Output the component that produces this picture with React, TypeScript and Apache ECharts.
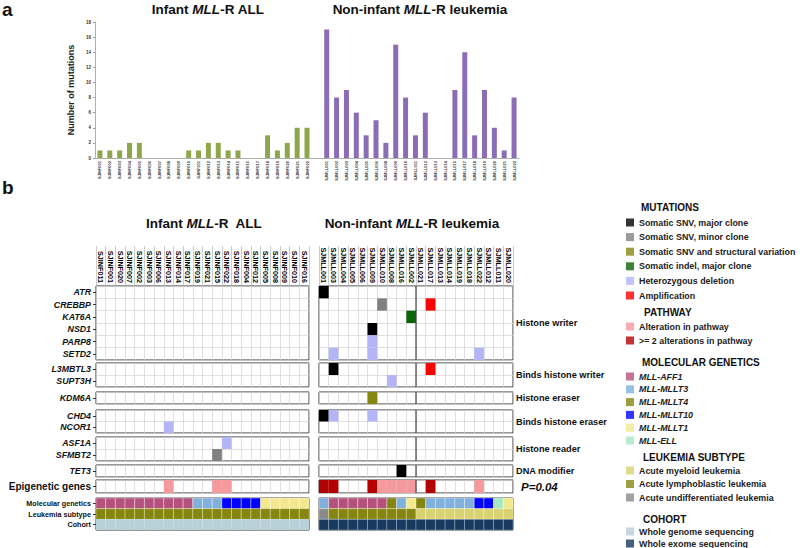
import React, { useEffect, useRef } from 'react';
import * as echarts from 'echarts';

const FONT = "'Liberation Sans', Arial, Helvetica, sans-serif";

// ---------- Panel a data ----------
const barInfantIds = ['SJINF001','SJINF002','SJINF003','SJINF004','SJINF005','SJINF006','SJINF007','SJINF008','SJINF009','SJINF010','SJINF011','SJINF012','SJINF013','SJINF014','SJINF015','SJINF016','SJINF017','SJINF018','SJINF019','SJINF020','SJINF021','SJINF022'];
const barInfantValues = [1,1,1,2,2,0,0,0,0,1,1,2,2,1,1,0,0,3,1,2,4,4];
const barNonInfantIds = ['SJMLL001','SJMLL002','SJMLL003','SJMLL004','SJMLL005','SJMLL006','SJMLL008','SJMLL009','SJMLL010','SJMLL011','SJMLL012','SJMLL013','SJMLL014','SJMLL016','SJMLL017','SJMLL018','SJMLL019','SJMLL020','SJMLL021','SJMLL022'];
const barNonInfantValues = [17,8,9,6,3,5,2,15,8,3,6,0,0,9,14,3,9,4,1,8];
const barYMax = 18;
const barYStep = 2;

// ---------- Panel b data ----------
const hmInfantIds = ['SJINF011','SJINF001','SJINF020','SJINF007','SJINF002','SJINF003','SJINF006','SJINF013','SJINF014','SJINF017','SJINF019','SJINF021','SJINF015','SJINF022','SJINF018','SJINF004','SJINF012','SJINF005','SJINF008','SJINF009','SJINF010','SJINF016'];
const hmNonInfantIds = ['SJMLL001','SJMLL003','SJMLL004','SJMLL005','SJMLL006','SJMLL009','SJMLL010','SJMLL008','SJMLL016','SJMLL002','SJMLL021','SJMLL017','SJMLL013','SJMLL014','SJMLL019','SJMLL018','SJMLL022','SJMLL012','SJMLL011','SJMLL020'];
const dividerAfter = 'SJMLL002';

const geneBlocks = [
  { genes: ['ATR','CREBBP','KAT6A','NSD1','PARP8','SETD2'], label: 'Histone writer' },
  { genes: ['L3MBTL3','SUPT3H'], label: 'Binds histone writer' },
  { genes: ['KDM6A'], label: 'Histone eraser' },
  { genes: ['CHD4','NCOR1'], label: 'Binds histone eraser' },
  { genes: ['ASF1A','SFMBT2'], label: 'Histone reader' },
  { genes: ['TET3'], label: 'DNA modifier' },
];

// [sample, gene, mutation type]
const infantMutations = [
  ['SJINF013','NCOR1','del'],
  ['SJINF015','SFMBT2','snvMinor'],
  ['SJINF022','ASF1A','del'],
];
const nonInfantMutations = [
  ['SJMLL001','ATR','snvMajor'],
  ['SJMLL001','CHD4','snvMajor'],
  ['SJMLL003','SETD2','del'],
  ['SJMLL003','L3MBTL3','snvMajor'],
  ['SJMLL003','CHD4','del'],
  ['SJMLL009','NSD1','snvMajor'],
  ['SJMLL009','PARP8','del'],
  ['SJMLL009','SETD2','del'],
  ['SJMLL009','KDM6A','snvSV'],
  ['SJMLL009','CHD4','del'],
  ['SJMLL010','CREBBP','snvMinor'],
  ['SJMLL008','SUPT3H','del'],
  ['SJMLL016','TET3','snvMajor'],
  ['SJMLL002','KAT6A','indel'],
  ['SJMLL017','CREBBP','amp'],
  ['SJMLL017','L3MBTL3','amp'],
  ['SJMLL022','SETD2','del'],
];

const pathwayLabel = 'Epigenetic genes';
const pathwayP = 'P=0.04';
const infantPathway = [0,0,0,0,0,0,0,1,0,0,0,0,1,1,0,0,0,0,0,0,0,0];
const nonInfantPathway = [2,2,0,0,0,2,1,1,1,1,0,2,0,0,0,0,1,0,0,0];

const annotationRows = ['Molecular genetics','Leukemia subtype','Cohort'];
const infantGenetics = ['AFF1','AFF1','AFF1','AFF1','AFF1','AFF1','AFF1','AFF1','AFF1','AFF1','MLLT3','MLLT3','MLLT3','MLLT10','MLLT10','MLLT10','MLLT10','MLLT1','MLLT1','MLLT1','MLLT1','MLLT1'];
const nonInfantGenetics = ['MLLT3','AFF1','AFF1','AFF1','AFF1','AFF1','AFF1','MLLT4','MLLT3','MLLT1','MLLT4','MLLT3','MLLT3','MLLT3','MLLT3','MLLT3','MLLT10','MLLT10','ELL','MLLT1'];
const infantSubtype = ['ALL','ALL','ALL','ALL','ALL','ALL','ALL','ALL','ALL','ALL','ALL','ALL','ALL','ALL','ALL','ALL','ALL','ALL','ALL','ALL','ALL','ALL'];
const nonInfantSubtype = ['AUL','ALL','ALL','ALL','ALL','ALL','ALL','ALL','ALL','ALL','AML','AML','AML','AML','AML','AML','AML','AML','AML','AML'];
const infantCohort = ['WGS','WGS','WGS','WGS','WGS','WGS','WGS','WGS','WGS','WGS','WGS','WGS','WGS','WGS','WGS','WGS','WGS','WGS','WGS','WGS','WGS','WGS'];
const nonInfantCohort = ['WES','WES','WES','WES','WES','WES','WES','WES','WES','WES','WES','WES','WES','WES','WES','WES','WES','WES','WES','WES'];

// ---------- Legends ----------
const mutationLegend = [
  { key: 'snvMajor', name: 'Somatic SNV, major clone', color: '#000000' },
  { key: 'snvMinor', name: 'Somatic SNV, minor clone', color: '#808080' },
  { key: 'snvSV', name: 'Somatic SNV and structural variation', color: '#858511' },
  { key: 'indel', name: 'Somatic indel, major clone', color: '#0a640a' },
  { key: 'del', name: 'Heterozygous deletion', color: '#b3b5f7' },
  { key: 'amp', name: 'Amplification', color: '#ff0000' },
];
const pathwayLegend = [
  { key: 1, name: 'Alteration in pathway', color: '#f59a9c' },
  { key: 2, name: '>= 2 alterations in pathway', color: '#b30000' },
];
const geneticsLegend = [
  { key: 'AFF1', name: 'MLL-AFF1', color: '#b4517d' },
  { key: 'MLLT3', name: 'MLL-MLLT3', color: '#80b1dd' },
  { key: 'MLLT4', name: 'MLL-MLLT4', color: '#858511' },
  { key: 'MLLT10', name: 'MLL-MLLT10', color: '#0000ff' },
  { key: 'MLLT1', name: 'MLL-MLLT1', color: '#f3e890' },
  { key: 'ELL', name: 'MLL-ELL', color: '#a6e8c6' },
];
const subtypeLegend = [
  { key: 'AML', name: 'Acute myeloid leukemia', color: '#d8d274' },
  { key: 'ALL', name: 'Acute lymphoblastic leukemia', color: '#858511' },
  { key: 'AUL', name: 'Acute undifferentiated leukemia', color: '#8a8a8a' },
];
const cohortLegend = [
  { key: 'WGS', name: 'Whole genome sequencing', color: '#b8d0d8' },
  { key: 'WES', name: 'Whole exome sequencing', color: '#173a5e' },
];

const colorOf = (list: any[], key: any) => (list.find((d) => d.key === key) || { color: '#fff' }).color;

// ---------- Layout ----------
const blockBoxes = [[286, 74], [363, 24], [392, 12], [410, 23], [437, 24], [465, 12], [480, 13], [498, 32]];
const groupBoxes = { inf: [96, 213], non: [319, 194] };

function buildOption() {
  const grids: any[] = [];
  const xAxes: any[] = [];
  const yAxes: any[] = [];
  const series: any[] = [];
  const graphic: any[] = [];

  // Panel a
  const barCats = [...barInfantIds, '', ...barNonInfantIds];
  grids.push({ left: 95, top: 22, width: 424, height: 136 });
  xAxes.push({
    type: 'category', gridIndex: 0, data: barCats,
    axisLine: { lineStyle: { color: '#9a9a9a', width: 0.8 } },
    axisTick: { show: false },
    axisLabel: { interval: 0, rotate: 90, fontSize: 4, color: '#333', margin: 3, fontWeight: 'bold' },
  });
  yAxes.push({
    type: 'value', gridIndex: 0, min: 0, max: barYMax, interval: barYStep,
    name: 'Number of mutations', nameLocation: 'middle', nameGap: 17,
    nameTextStyle: { fontSize: 9, fontWeight: 'bold', color: '#222' },
    axisLine: { show: true, lineStyle: { color: '#9a9a9a', width: 0.8 } },
    axisTick: { show: true, length: 2, lineStyle: { color: '#9a9a9a' } },
    axisLabel: { fontSize: 4.5, color: '#333', margin: 4, fontWeight: 'bold' },
    splitLine: { show: false },
  });
  series.push({
    type: 'bar', xAxisIndex: 0, yAxisIndex: 0, barWidth: 5, barGap: '-100%',
    data: [...barInfantValues, '-', ...barNonInfantIds.map(() => '-')],
    itemStyle: { color: '#8fa74c' },
  });
  series.push({
    type: 'bar', xAxisIndex: 0, yAxisIndex: 0, barWidth: 5, barGap: '-100%',
    data: [...barInfantIds.map(() => '-'), '-', ...barNonInfantValues],
    itemStyle: { color: '#8b6db5' },
  });

  // Panel b
  const allBlocks: any[] = [
    ...geneBlocks.map((b) => ({ rows: b.genes, label: b.label, kind: 'mut' })),
    { rows: [pathwayLabel], label: pathwayP, kind: 'path' },
    { rows: annotationRows, label: '', kind: 'ann' },
  ];

  allBlocks.forEach((blk, bi) => {
    const [top, height] = blockBoxes[bi];
    (['inf', 'non'] as const).forEach((g) => {
      const idx = grids.length;
      const ids = g === 'inf' ? hmInfantIds : hmNonInfantIds;
      const [left, width] = groupBoxes[g];
      grids.push({ left, top, width, height, show: true, borderColor: '#333', borderWidth: 1, backgroundColor: '#fff' });
      const isHeader = bi === 0;
      xAxes.push({
        type: 'category', gridIndex: idx, data: ids, position: 'top',
        axisLine: { show: false },
        axisTick: isHeader ? { show: true, interval: 0, length: 40, lineStyle: { color: '#aaaaaa', width: 0.6 } } : { show: false },
        axisLabel: isHeader ? { show: true, interval: 0, rotate: 90, fontSize: 7.2, fontWeight: 'bold', color: '#000', margin: 3 } : { show: false },
        splitLine: { show: blk.kind !== 'ann', interval: 0, lineStyle: { color: '#d2d2d2', width: 0.7 } },
      });
      const yLabelStyle =
        blk.kind === 'mut' ? { fontSize: 8.8, fontWeight: 'bold', fontStyle: 'italic', color: '#111' } :
        blk.kind === 'path' ? { fontSize: 10, fontWeight: 'bold', color: '#111' } :
        { fontSize: 7.2, fontWeight: 'bold', color: '#111' };
      yAxes.push({
        type: 'category', gridIndex: idx, data: blk.rows, inverse: true,
        position: g === 'inf' ? 'left' : 'right',
        axisLine: { show: false },
        axisTick: g === 'inf' ? { show: true, alignWithLabel: true, interval: 0, length: 3, lineStyle: { color: '#333' } } : { show: false },
        axisLabel: g === 'inf' ? { show: true, interval: 0, margin: 5, ...yLabelStyle } : { show: false },
        splitLine: { show: blk.kind !== 'ann', interval: 0, lineStyle: { color: '#d2d2d2', width: 0.7 } },
        name: g === 'non' ? blk.label : '',
        nameLocation: 'middle', nameRotate: 0, nameGap: blk.kind === 'path' ? 8 : 3,
        nameTextStyle: blk.kind === 'path'
          ? { align: 'left', verticalAlign: 'middle', fontSize: 11.5, fontWeight: 'bold', fontStyle: 'italic', color: '#111' }
          : { align: 'left', verticalAlign: 'middle', fontSize: 9.2, fontWeight: 'bold', color: '#111' },
      });

      // cells
      const cells: { x: number; y: number; fill: string; stroke: string | null }[] = [];
      if (blk.kind === 'mut') {
        const muts = g === 'inf' ? infantMutations : nonInfantMutations;
        muts.forEach(([s, gene, t]) => {
          const yi = blk.rows.indexOf(gene);
          const xi = ids.indexOf(s);
          if (yi >= 0 && xi >= 0) cells.push({ x: xi, y: yi, fill: colorOf(mutationLegend, t), stroke: null });
        });
      } else if (blk.kind === 'path') {
        const pw = g === 'inf' ? infantPathway : nonInfantPathway;
        pw.forEach((v, xi) => {
          if (v > 0) cells.push({ x: xi, y: 0, fill: colorOf(pathwayLegend, v), stroke: null });
        });
      } else {
        const gen = g === 'inf' ? infantGenetics : nonInfantGenetics;
        const sub = g === 'inf' ? infantSubtype : nonInfantSubtype;
        const coh = g === 'inf' ? infantCohort : nonInfantCohort;
        ids.forEach((_, xi) => {
          cells.push({ x: xi, y: 0, fill: colorOf(geneticsLegend, gen[xi]), stroke: 'rgba(255,255,255,0.6)' });
          cells.push({ x: xi, y: 1, fill: colorOf(subtypeLegend, sub[xi]), stroke: 'rgba(255,255,200,0.55)' });
          cells.push({ x: xi, y: 2, fill: colorOf(cohortLegend, coh[xi]), stroke: coh[xi] === 'WES' ? 'rgba(200,215,230,0.55)' : null });
        });
      }
      series.push({
        type: 'custom', xAxisIndex: idx, yAxisIndex: idx, z: 3,
        encode: { x: 0, y: 1 },
        data: cells.map((c) => [c.x, c.y]),
        renderItem: (params: any, api: any) => {
          const c = cells[params.dataIndex];
          const p = api.coord([api.value(0), api.value(1)]);
          const s = api.size([1, 1]);
          return {
            type: 'rect',
            shape: { x: p[0] - s[0] / 2, y: p[1] - s[1] / 2, width: s[0], height: s[1] },
            style: { fill: c.fill, stroke: c.stroke || c.fill, lineWidth: c.stroke ? 0.6 : 0 },
          };
        },
      });
      if (g === 'non' && blk.kind !== 'ann') {
        const di = ids.indexOf(dividerAfter);
        series.push({
          type: 'custom', xAxisIndex: idx, yAxisIndex: idx, z: 4,
          encode: { x: 0, y: 1 },
          data: [[di, 0]],
          renderItem: (params: any, api: any) => {
            const p = api.coord([api.value(0), api.value(1)]);
            const s = api.size([1, 1]);
            const cs = params.coordSys;
            const x = p[0] + s[0] / 2;
            return {
              type: 'line',
              shape: { x1: x, y1: cs.y, x2: x, y2: cs.y + cs.height },
              style: { stroke: '#444', lineWidth: 1.2 },
            };
          },
        });
      }
    });
  });

  // legend dummy series
  const allLegends = [mutationLegend, pathwayLegend, geneticsLegend, subtypeLegend, cohortLegend];
  allLegends.forEach((lst) => lst.forEach((d: any) => {
    series.push({ type: 'scatter', name: d.name, xAxisIndex: 0, yAxisIndex: 0, data: [], itemStyle: { color: d.color } });
  }));
  const legendBase = {
    orient: 'vertical', left: 626, padding: 0, itemWidth: 8, itemHeight: 8, icon: 'rect', selectedMode: false, height: 100,
  };
  const lt = { fontSize: 8.9, fontWeight: 'bold', color: '#222', lineHeight: 8 };
  const legends = [
    { ...legendBase, top: 218, itemGap: 5.6, data: mutationLegend.map((d) => d.name), textStyle: lt },
    { ...legendBase, top: 322, itemGap: 5, data: pathwayLegend.map((d) => d.name), textStyle: lt },
    { ...legendBase, top: 372, itemGap: 3.8, data: geneticsLegend.map((d) => d.name), textStyle: { ...lt, fontStyle: 'italic' } },
    { ...legendBase, top: 466, itemGap: 4.5, data: subtypeLegend.map((d) => d.name), textStyle: lt },
    { ...legendBase, top: 527, itemGap: 3, data: cohortLegend.map((d) => d.name), textStyle: lt },
  ];

  // text headings
  const rich = (size: number) => ({
    n: { fontSize: size, fontWeight: 'bold', fontFamily: FONT, fill: '#111', color: '#111' },
    i: { fontSize: size, fontWeight: 'bold', fontStyle: 'italic', fontFamily: FONT, fill: '#111', color: '#111' },
  });
  const txt = (x: number, y: number, text: string, size: number, align = 'left', richSize = 0) => ({
    type: 'text', x, y, silent: true,
    style: {
      text, textAlign: align, textVerticalAlign: 'middle',
      font: `bold ${size}px ${FONT}`, fill: '#111',
      ...(richSize ? { rich: rich(richSize) } : {}),
    },
  });
  graphic.push(txt(2, 9, 'a', 19));
  graphic.push(txt(2, 187, 'b', 19));
  graphic.push(txt(208, 9, '{n|Infant }{i|MLL}{n|-R ALL}', 13.5, 'center', 13.5));
  graphic.push(txt(420, 9, '{n|Non-infant }{i|MLL}{n|-R leukemia}', 13.5, 'center', 13.5));
  graphic.push(txt(204, 223, '{n|Infant }{i|MLL}{n|-R  ALL}', 13.5, 'center', 13.5));
  graphic.push(txt(412, 223, '{n|Non-infant }{i|MLL}{n|-R leukemia}', 13.5, 'center', 13.5));
  graphic.push(txt(641, 207, 'MUTATIONS', 10));
  graphic.push(txt(644, 312, 'PATHWAY', 10));
  graphic.push(txt(642, 362, 'MOLECULAR GENETICS', 10));
  graphic.push(txt(643, 457, 'LEUKEMIA SUBTYPE', 10));
  graphic.push(txt(643, 519, 'COHORT', 10));

  return {
    animation: false,
    backgroundColor: '#fff',
    textStyle: { fontFamily: FONT },
    grid: grids,
    xAxis: xAxes,
    yAxis: yAxes,
    series,
    legend: legends,
    graphic,
  };
}

export default function App() {
  const ref = useRef<HTMLDivElement>(null);
  useEffect(() => {
    if (!ref.current) return;
    const chart = echarts.init(ref.current, undefined, { renderer: 'svg' });
    chart.setOption(buildOption() as any);
    return () => chart.dispose();
  }, []);
  return <div ref={ref} style={{ position: 'fixed', left: 0, top: 0, width: 800, height: 548, background: '#fff' }} />;
}
